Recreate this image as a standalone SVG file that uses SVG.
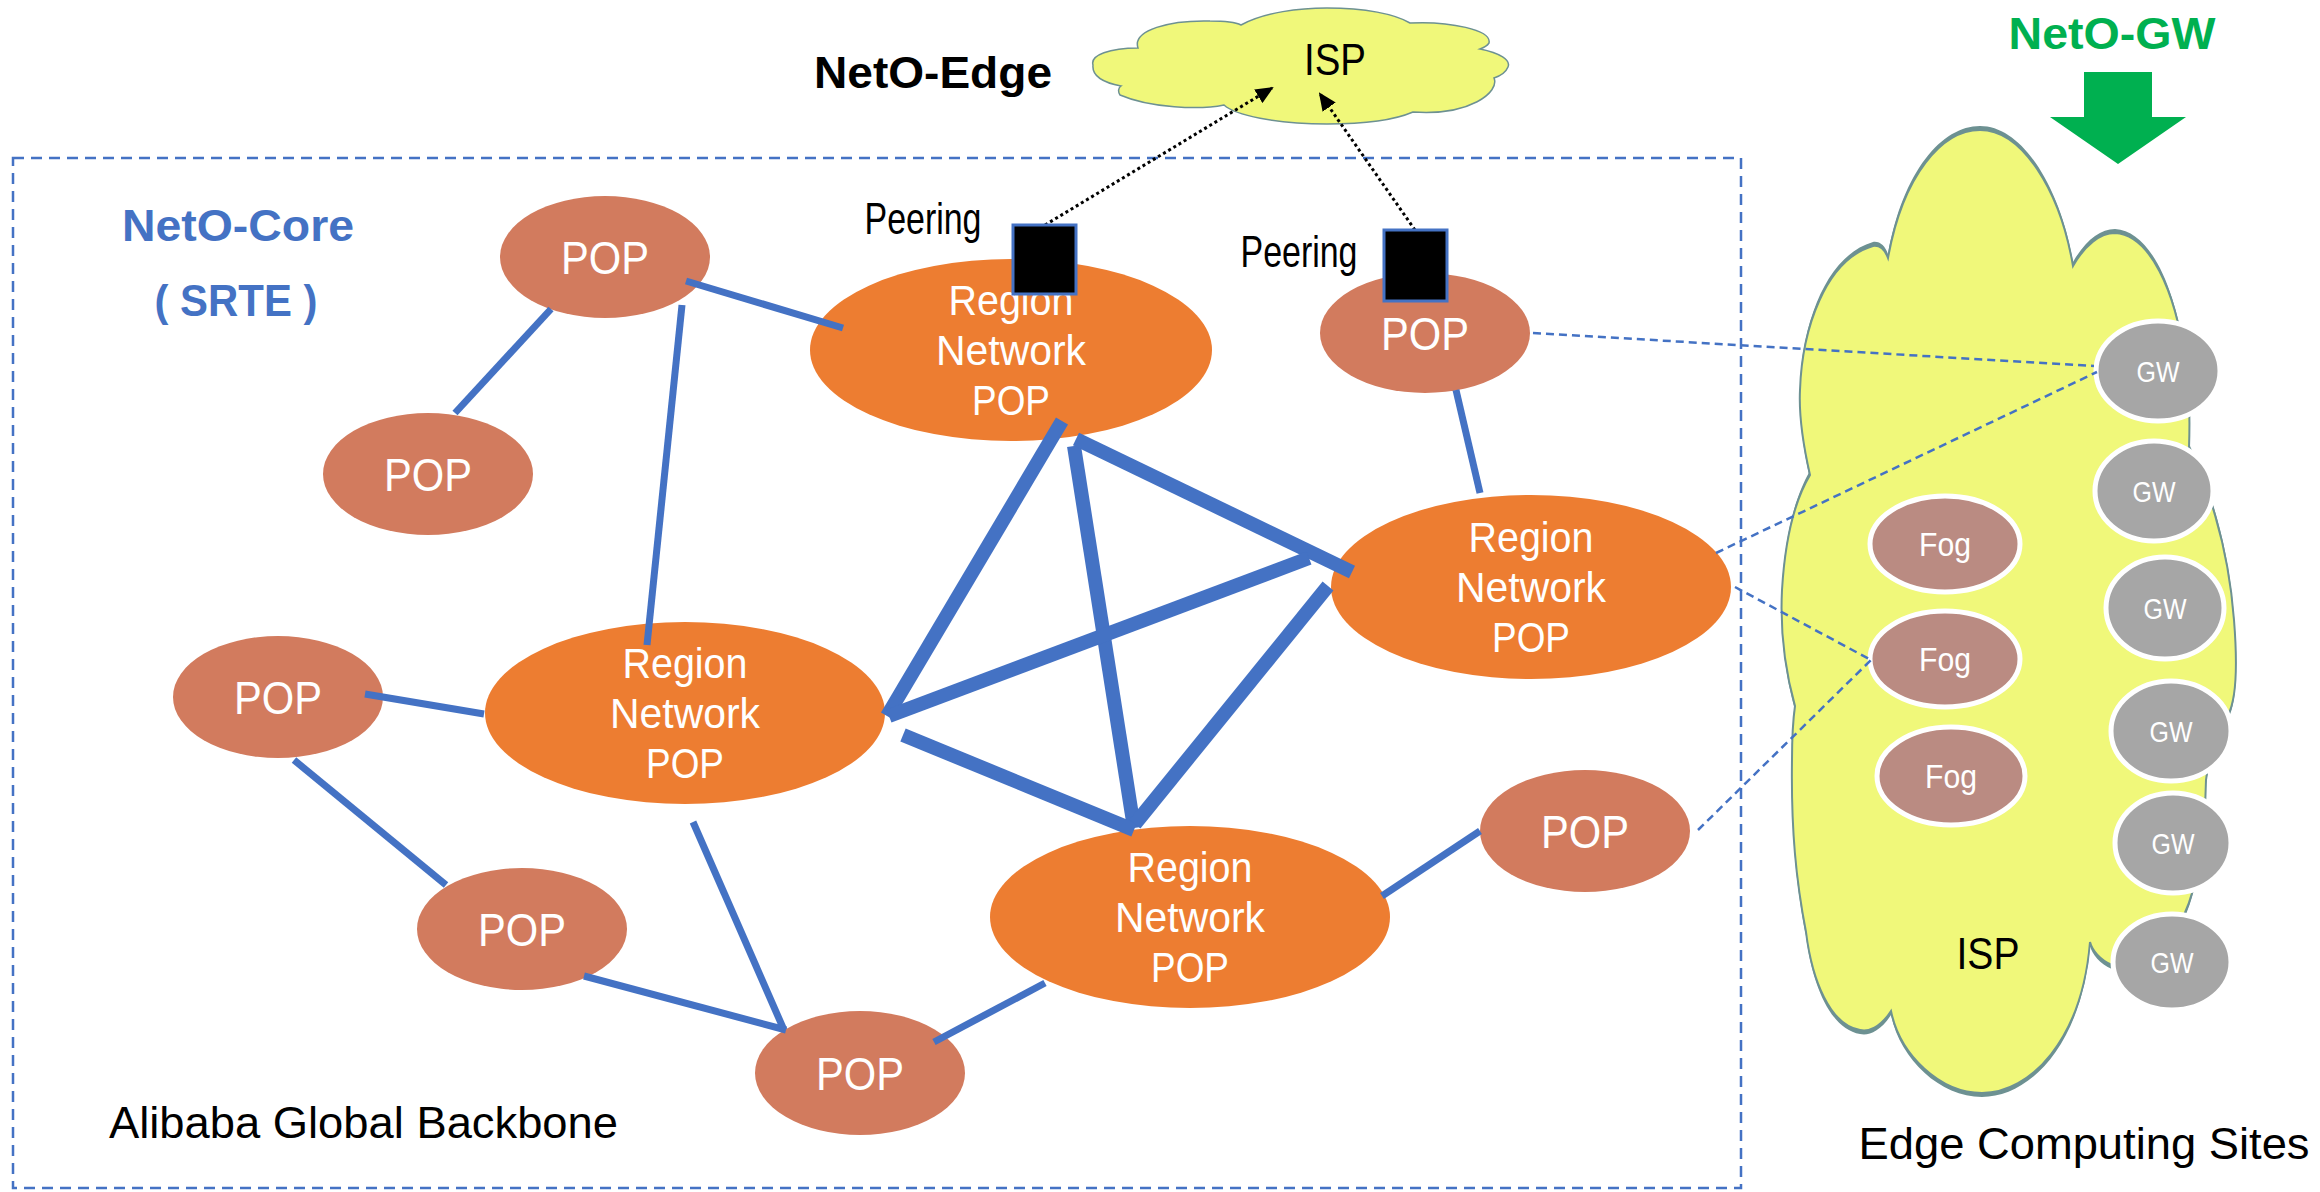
<svg xmlns="http://www.w3.org/2000/svg" width="2320" height="1192" viewBox="0 0 2320 1192">
<defs>
<style>
text{font-family:"Liberation Sans",Arial,sans-serif}
.pop{fill:#D27B5E}
.reg{fill:#ED7D31}
.wt{fill:#FFFFFF;text-anchor:middle}
.popt{font-size:47px}
.regt{font-size:42px}
.thin{stroke:#4472C4;stroke-width:7;fill:none}
.thick{stroke:#4472C4;stroke-width:14;fill:none}
.dash{stroke:#4472C4;stroke-width:2.5;stroke-dasharray:8 5;fill:none}
.dot{stroke:#000;stroke-width:3;stroke-dasharray:3 3;fill:none}
.gw{fill:#A6A6A6;stroke:#FFFFFF;stroke-width:5}
.fog{fill:#BA8B82;stroke:#FFFFFF;stroke-width:5}
.gwt{font-size:29px}
.fogt{font-size:34px}
.blk{font-size:44px;fill:#000}
.peer{fill:#000;stroke:#4472C4;stroke-width:3}
</style>
<marker id="ah" markerWidth="18" markerHeight="16" refX="16" refY="8" orient="auto" markerUnits="userSpaceOnUse">
<path d="M0,0 L18,8 L0,16 Z" fill="#000"/>
</marker>
<path id="cloudShape" d="M 1888 258 C 1903 175, 1942 130, 1980 130 C 2022 130, 2060 190, 2073 266 C 2085 245, 2100 233, 2115 233 C 2150 235, 2175 290, 2185 360 C 2190 390, 2190 420, 2189 448 C 2205 480, 2228 540, 2234 620 C 2238 670, 2236 700, 2228 715 C 2218 735, 2208 760, 2206 780 C 2205 830, 2200 880, 2184 915 C 2170 935, 2140 960, 2112 965 C 2100 960, 2092 950, 2090 942 C 2082 1040, 2030 1093, 1982 1093 C 1940 1093, 1900 1055, 1891 1011 C 1880 1028, 1868 1032, 1860 1030 C 1830 1025, 1812 980, 1806 932 C 1796 880, 1791 830, 1792 760 C 1792 740, 1793 720, 1795 706 C 1785 670, 1780 630, 1782 590 C 1785 540, 1795 500, 1810 475 C 1802 440, 1799 410, 1800 390 C 1802 330, 1825 260, 1873 246 C 1880 245, 1885 250, 1888 258 Z"/>
</defs>
<rect x="0" y="0" width="2320" height="1192" fill="#FFFFFF"/>

<!-- backbone boundary -->
<g id="backbone-box">
<rect x="13" y="158" width="1728" height="1030" fill="none" stroke="#4472C4" stroke-width="2.5" stroke-dasharray="11 7"/>
<text x="109" y="1138" class="blk" textLength="509" lengthAdjust="spacingAndGlyphs">Alibaba Global Backbone</text>
</g>

<!-- edge computing cloud -->
<g id="edge-cloud">
<use href="#cloudShape" transform="translate(0,-4)" fill="#6D9192"/>
<use href="#cloudShape" transform="translate(0,4)" fill="#6D9192"/>
<use href="#cloudShape" fill="#F0F87A" stroke="#6D9192" stroke-width="2"/>
<text x="1988" y="969" class="blk" text-anchor="middle" font-size="46" textLength="63" lengthAdjust="spacingAndGlyphs">ISP</text>
<text x="2084" y="1159" class="blk" text-anchor="middle" textLength="451" lengthAdjust="spacingAndGlyphs">Edge Computing Sites</text>
</g>

<!-- top ISP cloud -->
<g id="isp-cloud">
<path fill="#F0F87A" stroke="#6D9192" stroke-width="1.5" d="M 1093 65 C 1090 55, 1110 48, 1138 48 C 1132 30, 1170 20, 1210 21 C 1225 21, 1235 22, 1241 25 C 1265 12, 1300 8, 1327 8 C 1365 8, 1395 14, 1410 23 C 1450 21, 1492 30, 1489 43 C 1487 46, 1483 48, 1480 49 C 1500 53, 1511 60, 1508 67 C 1506 72, 1500 76, 1494 78 C 1500 92, 1470 116, 1413 112 C 1390 122, 1355 124, 1327 124 C 1275 124, 1235 115, 1224 105 C 1200 110, 1150 108, 1120 95 C 1118 92, 1118 88, 1121 86 C 1100 82, 1092 74, 1093 65 Z"/>
<text x="1335" y="75" class="blk" text-anchor="middle" font-size="46" textLength="62" lengthAdjust="spacingAndGlyphs">ISP</text>
</g>

<!-- titles -->
<g id="titles">
<text x="933" y="88" font-size="45" font-weight="bold" fill="#000" text-anchor="middle" textLength="238" lengthAdjust="spacingAndGlyphs">NetO-Edge</text>
<text x="2112" y="49" font-size="45" font-weight="bold" fill="#00B050" text-anchor="middle" textLength="207" lengthAdjust="spacingAndGlyphs">NetO-GW</text>
<text x="238" y="241" font-size="44" font-weight="bold" fill="#4472C4" text-anchor="middle" textLength="232" lengthAdjust="spacingAndGlyphs">NetO-Core</text>
<text x="236" y="316" font-size="44" font-weight="bold" fill="#4472C4" text-anchor="middle" textLength="163" lengthAdjust="spacingAndGlyphs">( SRTE )</text>
</g>

<g id="neto-gw-arrow">
<polygon points="2084,72 2152,72 2152,117 2186,117 2118,164 2050,117 2084,117" fill="#00B050"/>
</g>

<!-- nodes -->
<g id="pop1"><ellipse cx="605" cy="257" rx="105" ry="61" class="pop"/><text x="605" y="274" class="wt popt" textLength="88" lengthAdjust="spacingAndGlyphs">POP</text></g>
<g id="pop2"><ellipse cx="428" cy="474" rx="105" ry="61" class="pop"/><text x="428" y="491" class="wt popt" textLength="88" lengthAdjust="spacingAndGlyphs">POP</text></g>
<g id="pop3"><ellipse cx="1425" cy="333" rx="105" ry="60" class="pop"/><text x="1425" y="350" class="wt popt" textLength="88" lengthAdjust="spacingAndGlyphs">POP</text></g>
<g id="pop4"><ellipse cx="278" cy="697" rx="105" ry="61" class="pop"/><text x="278" y="714" class="wt popt" textLength="88" lengthAdjust="spacingAndGlyphs">POP</text></g>
<g id="pop5"><ellipse cx="522" cy="929" rx="105" ry="61" class="pop"/><text x="522" y="946" class="wt popt" textLength="88" lengthAdjust="spacingAndGlyphs">POP</text></g>
<g id="pop6"><ellipse cx="860" cy="1073" rx="105" ry="62" class="pop"/><text x="860" y="1090" class="wt popt" textLength="88" lengthAdjust="spacingAndGlyphs">POP</text></g>
<g id="pop7"><ellipse cx="1585" cy="831" rx="105" ry="61" class="pop"/><text x="1585" y="848" class="wt popt" textLength="88" lengthAdjust="spacingAndGlyphs">POP</text></g>

<g id="region-top"><ellipse cx="1011" cy="350" rx="201" ry="91" class="reg"/><text class="wt regt" x="1011" y="315" textLength="125" lengthAdjust="spacingAndGlyphs">Region</text><text class="wt regt" x="1011" y="365" textLength="150" lengthAdjust="spacingAndGlyphs">Network</text><text class="wt regt" x="1011" y="415" textLength="78" lengthAdjust="spacingAndGlyphs">POP</text></g>
<g id="region-right"><ellipse cx="1531" cy="587" rx="200" ry="92" class="reg"/><text class="wt regt" x="1531" y="552" textLength="125" lengthAdjust="spacingAndGlyphs">Region</text><text class="wt regt" x="1531" y="602" textLength="150" lengthAdjust="spacingAndGlyphs">Network</text><text class="wt regt" x="1531" y="652" textLength="78" lengthAdjust="spacingAndGlyphs">POP</text></g>
<g id="region-left"><ellipse cx="685" cy="713" rx="200" ry="91" class="reg"/><text class="wt regt" x="685" y="678" textLength="125" lengthAdjust="spacingAndGlyphs">Region</text><text class="wt regt" x="685" y="728" textLength="150" lengthAdjust="spacingAndGlyphs">Network</text><text class="wt regt" x="685" y="778" textLength="78" lengthAdjust="spacingAndGlyphs">POP</text></g>
<g id="region-bottom"><ellipse cx="1190" cy="917" rx="200" ry="91" class="reg"/><text class="wt regt" x="1190" y="882" textLength="125" lengthAdjust="spacingAndGlyphs">Region</text><text class="wt regt" x="1190" y="932" textLength="150" lengthAdjust="spacingAndGlyphs">Network</text><text class="wt regt" x="1190" y="982" textLength="78" lengthAdjust="spacingAndGlyphs">POP</text></g>

<g id="gw1"><ellipse cx="2158" cy="371" rx="62" ry="50" class="gw"/><text x="2158" y="382" class="wt gwt" textLength="43" lengthAdjust="spacingAndGlyphs">GW</text></g>
<g id="gw2"><ellipse cx="2154" cy="491" rx="59" ry="50" class="gw"/><text x="2154" y="502" class="wt gwt" textLength="43" lengthAdjust="spacingAndGlyphs">GW</text></g>
<g id="gw3"><ellipse cx="2165" cy="608" rx="59" ry="51" class="gw"/><text x="2165" y="619" class="wt gwt" textLength="43" lengthAdjust="spacingAndGlyphs">GW</text></g>
<g id="gw4"><ellipse cx="2171" cy="731" rx="60" ry="50" class="gw"/><text x="2171" y="742" class="wt gwt" textLength="43" lengthAdjust="spacingAndGlyphs">GW</text></g>
<g id="gw5"><ellipse cx="2173" cy="843" rx="58" ry="50" class="gw"/><text x="2173" y="854" class="wt gwt" textLength="43" lengthAdjust="spacingAndGlyphs">GW</text></g>
<g id="gw6"><ellipse cx="2172" cy="962" rx="59" ry="48" class="gw"/><text x="2172" y="973" class="wt gwt" textLength="43" lengthAdjust="spacingAndGlyphs">GW</text></g>

<g id="fog1"><ellipse cx="1945" cy="544" rx="75" ry="48" class="fog"/><text x="1945" y="556" class="wt fogt" textLength="52" lengthAdjust="spacingAndGlyphs">Fog</text></g>
<g id="fog2"><ellipse cx="1945" cy="659" rx="75" ry="48" class="fog"/><text x="1945" y="671" class="wt fogt" textLength="52" lengthAdjust="spacingAndGlyphs">Fog</text></g>
<g id="fog3"><ellipse cx="1951" cy="776" rx="74" ry="49" class="fog"/><text x="1951" y="788" class="wt fogt" textLength="52" lengthAdjust="spacingAndGlyphs">Fog</text></g>

<!-- connectors -->
<g id="connectors">
<line class="thin" x1="686" y1="281" x2="843" y2="328"/>
<line class="thin" x1="551" y1="309" x2="455" y2="413"/>
<line class="thin" x1="682" y1="305" x2="647" y2="645"/>
<line class="thin" x1="1456" y1="390" x2="1480" y2="493"/>
<line class="thin" x1="365" y1="694" x2="484" y2="714"/>
<line class="thin" x1="294" y1="760" x2="446" y2="885"/>
<line class="thin" x1="584" y1="976" x2="786" y2="1030"/>
<line class="thin" x1="693" y1="822" x2="784" y2="1030"/>
<line class="thin" x1="934" y1="1042" x2="1045" y2="983"/>
<line class="thin" x1="1382" y1="896" x2="1480" y2="831"/>

<line class="thick" x1="1062" y1="421" x2="887" y2="716"/>
<line class="thick" x1="1074" y1="446" x2="1134" y2="828"/>
<line class="thick" x1="1076" y1="439" x2="1352" y2="572"/>
<line class="thick" x1="889" y1="716" x2="1309" y2="558"/>
<line class="thick" x1="903" y1="735" x2="1134" y2="830"/>
<line class="thick" x1="1328" y1="586" x2="1135" y2="824"/>

<line class="dash" x1="1533" y1="333" x2="2094" y2="366"/>
<line class="dash" x1="1716" y1="553" x2="2097" y2="372"/>
<line class="dash" x1="1735" y1="587" x2="1871" y2="660"/>
<line class="dash" x1="1698" y1="830" x2="1871" y2="660"/>

<line class="dot" x1="1045" y1="225" x2="1272" y2="88" marker-end="url(#ah)"/>
<line class="dot" x1="1415" y1="230" x2="1320" y2="94" marker-end="url(#ah)"/>
</g>

<!-- peering points -->
<g id="peering-left"><rect x="1013" y="225" width="63" height="69" class="peer"/><text x="923" y="234" class="blk" font-size="37" text-anchor="middle" textLength="117" lengthAdjust="spacingAndGlyphs">Peering</text></g>
<g id="peering-right"><rect x="1384" y="230" width="63" height="71" class="peer"/><text x="1299" y="267" class="blk" font-size="37" text-anchor="middle" textLength="117" lengthAdjust="spacingAndGlyphs">Peering</text></g>
</svg>
